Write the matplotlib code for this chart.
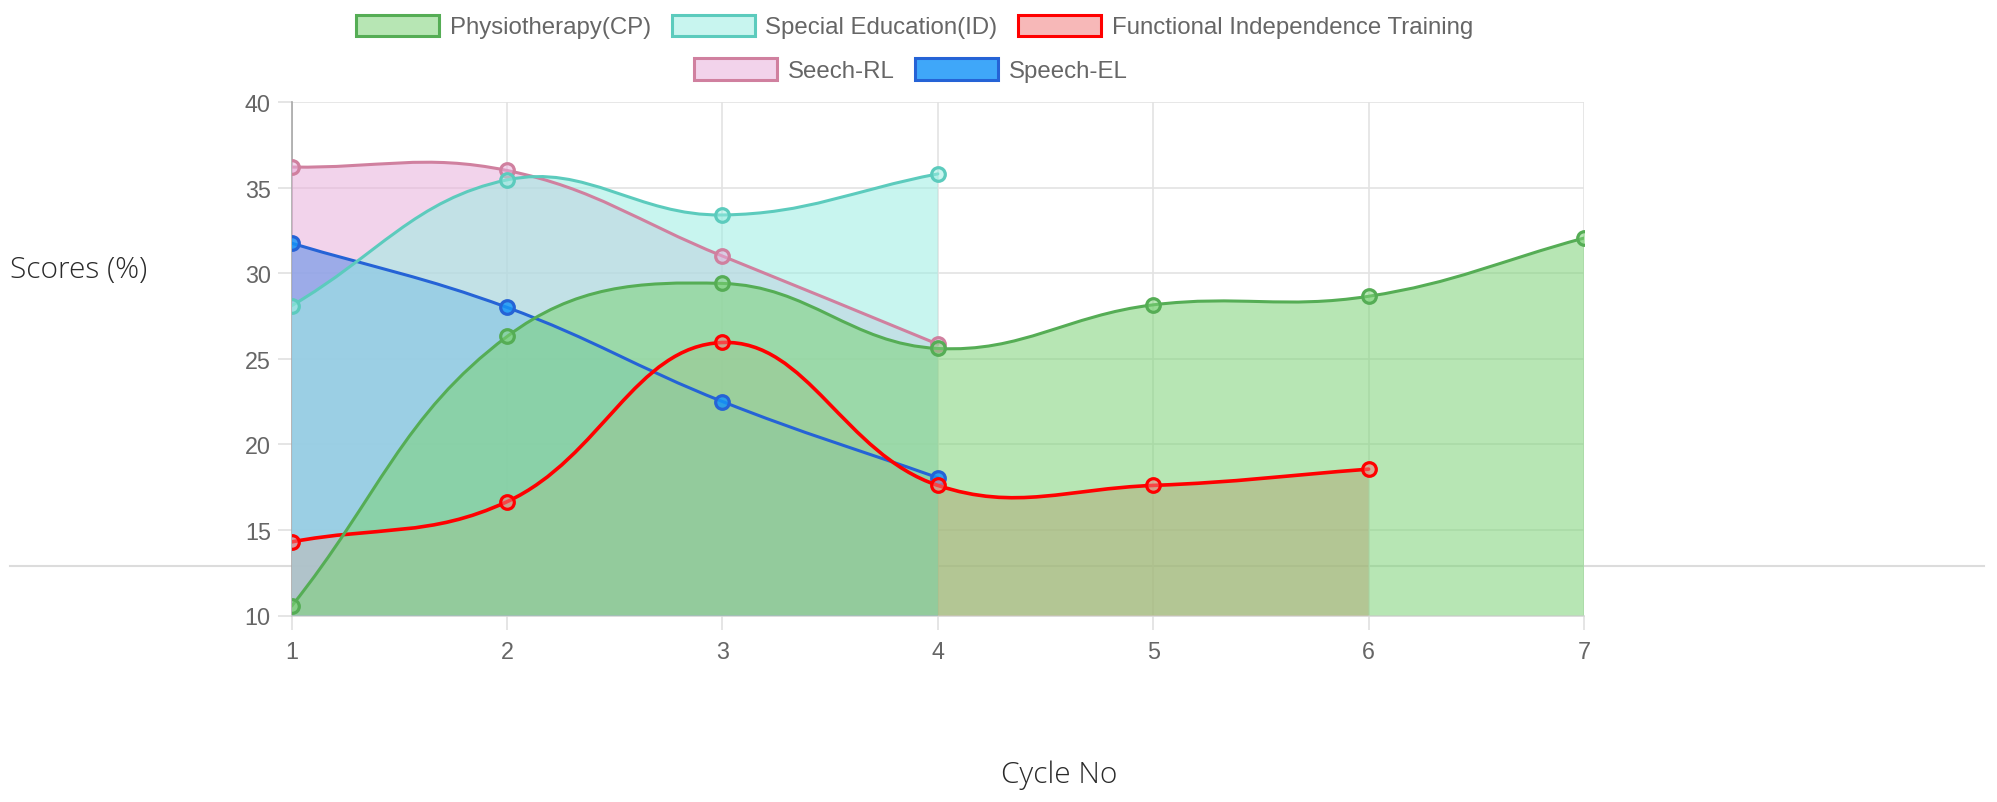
import math
import matplotlib
matplotlib.use("Agg")
import matplotlib.pyplot as plt
from matplotlib.path import Path
from matplotlib.patches import PathPatch, Patch
from matplotlib.lines import Line2D

# ---------------- data ----------------
cycles = [1, 2, 3, 4, 5, 6, 7]
physio = [10.55, 26.3, 29.4, 25.6, 28.15, 28.65, 32.05]
special_ed = [28.1, 35.45, 33.4, 35.8]
func_indep = [14.3, 16.65, 25.95, 17.6, 17.6, 18.55]
speech_rl = [36.2, 36.0, 31.0, 25.85]
speech_el = [31.75, 28.0, 22.5, 18.05]

labels = ["Physiotherapy(CP)", "Special Education(ID)",
          "Functional Independence Training", "Seech-RL", "Speech-EL"]
yticks = [10, 15, 20, 25, 30, 35, 40]

# ---------------- styles ----------------
fills = [(124/255, 211/255, 119/255, 0.55),
         (155/255, 237/255, 226/255, 0.55),
         (242/255, 126/255, 126/255, 0.55),
         (233/255, 175/255, 219/255, 0.55),
         (20/255, 148/255, 248/255, 0.82)]
borders = ["#55ad55", "#5ccbbd", "#ff0000", "#d0809f", "#2563d6"]
series = [physio, special_ed, func_indep, speech_rl, speech_el]

W, H = 1997, 803
fig = plt.figure(figsize=(W / 100, H / 100), dpi=100)
x0, x1 = 291.7, 1584.0
y_top, y_bot = 103.0, 616.5
ax = fig.add_axes([x0 / W, 1 - y_bot / H, (x1 - x0) / W, (y_bot - y_top) / H])
ax.set_facecolor("none")
ax.set_xlim(1, 7)
ax.set_ylim(10, 40)

# horizontal page rule behind chart
fig.add_artist(Line2D([10 / W, 1984 / W], [1 - 567 / H, 1 - 567 / H],
                      transform=fig.transFigure, color="#dcdcdc", lw=1.5, zorder=-5))

# grid
ax.set_xticks(cycles)
ax.set_yticks(yticks)
ax.grid(True, color="#e3e3e3", lw=1.2, zorder=0)
ax.set_axisbelow(True)
for s in ["top", "right"]:
    ax.spines[s].set_visible(False)
ax.spines["left"].set_color("#a8a8a8")
ax.spines["left"].set_linewidth(1.2)
ax.spines["bottom"].set_color("#d6d6d6")
ax.spines["bottom"].set_linewidth(1.2)
ax.tick_params(axis="both", color="#e0e0e0", length=10, width=1.2,
               labelcolor="#666666", labelsize=16.8)
ax.tick_params(axis="y", pad=5)
ax.tick_params(axis="x", pad=8)
for t in ax.get_xticklabels() + ax.get_yticklabels():
    t.set_fontfamily("Liberation Sans")

# pixel scale for chart.js-like spline control points
px = ax.transData.transform([(1, 10), (2, 11)])
sx = px[1][0] - px[0][0]
sy = px[1][1] - px[0][1]


def spline_path(xs, ys, tension=0.4, base=None):
    pts = list(zip(xs, ys))
    n = len(pts)
    prev_c, next_c = [], []
    clip = lambda v, lo, hi: max(lo, min(hi, v))
    for i in range(n):
        p = pts[max(i - 1, 0)]
        c = pts[i]
        q = pts[min(i + 1, n - 1)]
        d01 = math.hypot((c[0] - p[0]) * sx, (c[1] - p[1]) * sy)
        d12 = math.hypot((q[0] - c[0]) * sx, (q[1] - c[1]) * sy)
        tot = d01 + d12
        s01 = d01 / tot if tot else 0
        s12 = d12 / tot if tot else 0
        fa, fb = tension * s01, tension * s12
        dx, dy = q[0] - p[0], q[1] - p[1]
        prev_c.append((clip(c[0] - fa * dx, 1, 7), clip(c[1] - fa * dy, 10, 40)))
        next_c.append((clip(c[0] + fb * dx, 1, 7), clip(c[1] + fb * dy, 10, 40)))
    verts = [pts[0]]
    codes = [Path.MOVETO]
    for i in range(n - 1):
        verts += [next_c[i], prev_c[i + 1], pts[i + 1]]
        codes += [Path.CURVE4] * 3
    if base is not None:
        verts += [(xs[-1], base), (xs[0], base), pts[0]]
        codes += [Path.LINETO, Path.LINETO, Path.CLOSEPOLY]
    return Path(verts, codes)


n_s = len(series)
# fills: last dataset at the bottom, first on top
for k in range(n_s - 1, -1, -1):
    ys = series[k]
    xs = cycles[:len(ys)]
    ax.add_patch(PathPatch(spline_path(xs, ys, base=10), facecolor=fills[k],
                           edgecolor="none", zorder=2 + (n_s - k)))
# lines and points on top of all fills
for k in range(n_s - 1, -1, -1):
    ys = series[k]
    xs = cycles[:len(ys)]
    lw = 2.6 if k == 2 else 2.2
    ax.add_patch(PathPatch(spline_path(xs, ys), facecolor="none",
                           edgecolor=borders[k], lw=lw, zorder=10 + 2 * (n_s - k),
                           capstyle="round", joinstyle="round"))
    ax.plot(xs, ys, linestyle="none", marker="o", ms=9.8, mfc=fills[k],
            mec=borders[k], mew=2.3, zorder=11 + 2 * (n_s - k))

# axis titles
fig.text(10 / W, 1 - 270 / H, "Scores (%)", fontsize=21.5, family="Open Sans",
         fontweight="light", color="#2a2a2a", ha="left", va="center")
fig.text(1059 / W, 1 - 775 / H, "Cycle No", fontsize=21.5, family="Open Sans",
         fontweight="light", color="#2a2a2a", ha="center", va="center")

# legend
handles = [Patch(facecolor=fills[k], edgecolor=borders[k], lw=2.2) for k in range(n_s)]
common = dict(frameon=False, handlelength=3.45, handleheight=1.0,
              handletextpad=0.45, columnspacing=0.85, labelcolor="#666666",
              prop={"family": "Liberation Sans", "size": 17.3}, borderpad=0, borderaxespad=0)
fig.legend(handles[:3], labels[:3], loc="center", ncol=3,
           bbox_to_anchor=(0.458, 1 - 27.5 / H), **common)
fig.legend(handles[3:], labels[3:], loc="center", ncol=2,
           bbox_to_anchor=(0.456, 1 - 71 / H), **common)

fig.savefig("out.png", dpi=100)
